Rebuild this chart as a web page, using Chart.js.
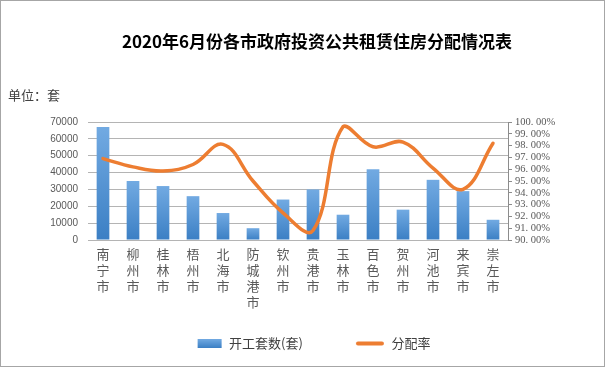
<!DOCTYPE html>
<html><head><meta charset="utf-8">
<script src="https://cdn.jsdelivr.net/npm/chart.js@4/dist/chart.umd.min.js"></script>
<style>
html,body{margin:0;padding:0;background:#fff}
#wrap{position:relative;width:603px;height:365px;border:1px solid #a6a6a6;}
</style></head>
<body><div id="wrap"><canvas id="c"></canvas></div>
<script>
const chartTitle = '2020年6月份各市政府投资公共租赁住房分配情况表';
const unitLabel = '单位：套';
const categories = ['南宁市','柳州市','桂林市','梧州市','北海市','防城港市','钦州市','贵港市','玉林市','百色市','贺州市','河池市','来宾市','崇左市'];
const startedUnits = [67000,35000,32000,26000,16000,7000,24000,30000,15000,42000,18000,35700,29000,12000];
const allocationRate = [96.9,96.2,95.85,96.4,98.1,95.0,92.3,90.8,99.6,97.9,98.3,96.1,94.3,98.2];
const seriesNames = ['开工套数(套)','分配率'];

const BLUE_TOP = '#72aae2', BLUE_BOT = '#3b7fc4', ORANGE = '#ed7d31';
const LEG_BOX = 72;

function swatch(w, h, draw){ const c=document.createElement('canvas'); c.width=w; c.height=h; draw(c.getContext('2d'), w, h); return c; }
const barSwatch = swatch(LEG_BOX, 9, (g,w,h)=>{ const gr=g.createLinearGradient(0,0,0,h); gr.addColorStop(0,BLUE_TOP); gr.addColorStop(1,BLUE_BOT); g.fillStyle=gr; g.fillRect(w-25,0,24,h); });
const lineSwatch = swatch(LEG_BOX, 5, (g,w,h)=>{ g.strokeStyle=ORANGE; g.lineWidth=4; g.lineCap='round'; g.beginPath(); g.moveTo(w-27,2.5); g.lineTo(w-3,2.5); g.stroke(); });

const textPlugin = {
  id:'headerText',
  afterDraw(chart){
    const ctx = chart.ctx; ctx.save();
    ctx.textBaseline = 'middle';
    ctx.font = 'bold 17px "Noto Sans CJK SC"'; ctx.fillStyle = '#000'; ctx.textAlign = 'center';
    ctx.fillText(chartTitle, 316, 41);
    ctx.font = '13px "Noto Sans CJK SC"'; ctx.fillStyle = '#404040'; ctx.textAlign = 'left';
    ctx.fillText(unitLabel, 7, 94);
    ctx.restore();
  }
};

new Chart(document.getElementById('c'), {
  data: {
    labels: categories.map(s => Array.from(s)),
    datasets: [
      {
        type:'bar', label: seriesNames[0], data: startedUnits, yAxisID:'y', order:1,
        categoryPercentage:0.9, barPercentage:0.47,
        backgroundColor: (ctx)=>{
          const chart = ctx.chart, a = chart.chartArea;
          if(!a || ctx.parsed === undefined || !chart.scales.y) return BLUE_BOT;
          const top = chart.scales.y.getPixelForValue(ctx.parsed.y);
          if(!isFinite(top) || a.bottom - top < 1) return BLUE_BOT;
          const g = chart.ctx.createLinearGradient(0, top, 0, a.bottom);
          g.addColorStop(0, BLUE_TOP); g.addColorStop(1, BLUE_BOT);
          return g;
        }
      },
      {
        type:'line', label: seriesNames[1], data: allocationRate, yAxisID:'y2', order:0,
        borderColor: ORANGE, backgroundColor: ORANGE, borderWidth:3.5, tension:0.4,
        pointRadius:0, fill:false, borderCapStyle:'round'
      }
    ]
  },
  options: {
    responsive:true, maintainAspectRatio:false, animation:false,
    layout:{ padding:{ left:0, right:24, top:121, bottom:6 } },
    plugins:{
      tooltip:{enabled:false},
      title:{ display:false },
      legend:{ position:'bottom',
        labels:{ usePointStyle:true, pointStyleWidth:LEG_BOX, padding:10, color:'#404040',
          font:{ family:'"Noto Sans CJK SC"', size:13 },
          sort:(a,b)=>a.datasetIndex-b.datasetIndex,
          generateLabels:(chart)=>{
            const items = Chart.defaults.plugins.legend.labels.generateLabels(chart);
            items.forEach(it => { it.pointStyle = it.datasetIndex === 0 ? barSwatch : lineSwatch; });
            return items;
          }
        }
      }
    },
    scales:{
      x:{
        grid:{ display:false, drawTicks:false }, border:{ display:false },
        ticks:{ color:'#595959', padding:6, maxRotation:0, autoSkip:false,
          font:{ family:'"Noto Sans CJK SC"', size:13, lineHeight:1.23 } },
        afterFit:(s)=>{ s.height = 87; }
      },
      y:{
        position:'left', min:0, max:70000,
        ticks:{ stepSize:10000, color:'#595959', padding:10, autoSkip:false,
          font:{ family:'"Liberation Sans"', size:10 },
          callback:(v)=> String(v) },
        grid:{ color:'#b4b4b4', drawTicks:false }, border:{ display:false },
        afterFit:(s)=>{ s.width = 87; }
      },
      y2:{
        position:'right', min:90, max:100,
        ticks:{ stepSize:1, color:'#595959', padding:3, autoSkip:false,
          font:{ family:'"Liberation Serif"', size:10.5 },
          callback:(v)=> Number(v).toFixed(2).replace('.', '. ') + '%' },
        grid:{ drawOnChartArea:false, drawTicks:true, tickLength:4, color:'#8c8c8c' },
        border:{ display:true, color:'#8c8c8c' },
        afterFit:(s)=>{ s.width = 72; }
      }
    }
  },
  plugins:[textPlugin]
});
</script>
</body></html>
